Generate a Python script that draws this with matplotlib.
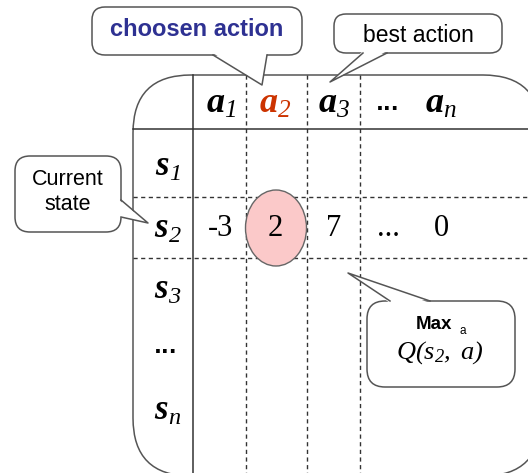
import matplotlib
matplotlib.use("Agg")
import matplotlib.pyplot as plt
from matplotlib.patches import FancyBboxPatch, Polygon, Ellipse

plt.rcParams["mathtext.fontset"] = "custom"
plt.rcParams["mathtext.rm"] = "Liberation Serif:italic"
plt.rcParams["mathtext.it"] = "Liberation Serif:italic"
plt.rcParams["mathtext.bf"] = "Liberation Serif:italic:bold"

# table content
actions = [r"$\mathbf{a}_{1}$", r"$\mathbf{a}_{2}$", r"$\mathbf{a}_{3}$",
           "...", r"$\mathbf{a}_{n}$"]
states = [r"$\mathbf{s}_{1}$", r"$\mathbf{s}_{2}$", r"$\mathbf{s}_{3}$",
          "...", r"$\mathbf{s}_{n}$"]
q_row = ["-3", "2", "7", "...", "0"]
chosen_idx = 1
current_state = 1

W, H = 528, 473
fig = plt.figure(figsize=(W / 100, H / 100), dpi=100)
ax = fig.add_axes([0, 0, 1, 1])
ax.set_xlim(0, W)
ax.set_ylim(H, 0)
ax.axis("off")

edge = "#555555"
grid_c = "#333333"

# outer rounded table
left, top, right, bottom = 133, 75, 541, 476
ax.add_patch(FancyBboxPatch((left, top), right - left, bottom - top,
                            boxstyle="round,pad=0,rounding_size=58",
                            fc="white", ec=edge, lw=1.1, zorder=1))
ax.plot([left, right], [129, 129], color=grid_c, lw=1.1, zorder=2)
ax.plot([193, 193], [top, bottom], color=grid_c, lw=1.1, zorder=2)
for x in [246, 307, 360]:
    ax.plot([x, x], [top, bottom], color=grid_c, lw=1, ls=(0, (3, 2.5)), zorder=2)
for y in [197, 258]:
    ax.plot([left, right], [y, y], color=grid_c, lw=1, ls=(0, (3, 2.5)), zorder=2)

col_x = [221, 275, 334, 388, 441]
row_y = [166, 228, 289, 350, 410]

# highlighted chosen value
ax.add_patch(Ellipse((col_x[chosen_idx] + 1, row_y[current_state]), 61, 76,
                     fc="#fbc9c9", ec="#666666", lw=1, zorder=3))

for i, lab in enumerate(actions):
    c = "#cc3300" if i == chosen_idx else "black"
    if lab == "...":
        ax.text(col_x[i], 104, lab, ha="center", va="center", fontsize=15,
                fontweight="bold", color=c, zorder=4)
    else:
        ax.text(col_x[i], 103, lab, ha="center", va="center", fontsize=26, color=c, zorder=4)

for j, lab in enumerate(states):
    if lab == "...":
        ax.text(166, row_y[j] - 3, lab, ha="center", va="center", fontsize=15,
                fontweight="bold", zorder=4)
    else:
        ax.text(168, row_y[j], lab, ha="center", va="center", fontsize=25, zorder=4)

for i, v in enumerate(q_row):
    ax.text(col_x[i], row_y[current_state], v, ha="center", va="center",
            fontsize=22, family="Liberation Serif", zorder=4)


def callout(x0, y0, x1, y1, base, tip, r):
    ax.add_patch(FancyBboxPatch((x0, y0), x1 - x0, y1 - y0,
                                boxstyle=f"round,pad=0,rounding_size={r}",
                                fc="white", ec=edge, lw=1.1, zorder=5))
    (bx0, by0), (bx1, by1) = base
    # nudge the fill a bit inside the box so it hides the border
    dx = 0 if bx0 != bx1 else -2
    dy = 0 if by0 != by1 else (-2 if tip[1] > by0 else 2)
    ax.add_patch(Polygon([(bx0 + dx, by0 + dy), tip, (bx1 + dx, by1 + dy)],
                         closed=True, fc="white", ec="none", zorder=6))
    ax.plot([bx0, tip[0], bx1], [by0, tip[1], by1], color=edge, lw=1.1, zorder=7)


callout(92, 7, 302, 55, [(213, 55), (267, 55)], (262, 85), 13)
ax.text(197, 29, "choosen action", ha="center", va="center", fontsize=17,
        fontweight="bold", color="#2e3192", family="Liberation Sans", zorder=8)

callout(334, 14, 502, 53, [(363, 53), (387, 53)], (330, 82), 12)
ax.text(418, 35, "best action", ha="center", va="center", fontsize=16.5,
        color="black", family="Liberation Sans", zorder=8)

callout(15, 156, 121, 232, [(121, 200), (121, 217)], (148, 223), 15)
ax.text(68, 192, "Current\nstate", ha="center", va="center", fontsize=15.5,
        color="black", family="Liberation Sans", linespacing=1.3, zorder=8)

callout(367, 301, 515, 387, [(390, 301), (430, 301)], (348, 273), 18)
ax.text(434, 324, "Max", ha="center", va="center", fontsize=13.5,
        fontweight="bold", family="Liberation Sans", zorder=8)
ax.text(463, 331, "a", ha="center", va="center", fontsize=8.5,
        family="Liberation Sans", zorder=8)
ax.text(440, 353, r"$Q(s_{2},\ a)$", ha="center", va="center", fontsize=19, zorder=8)

fig.savefig("out.png", dpi=100)
